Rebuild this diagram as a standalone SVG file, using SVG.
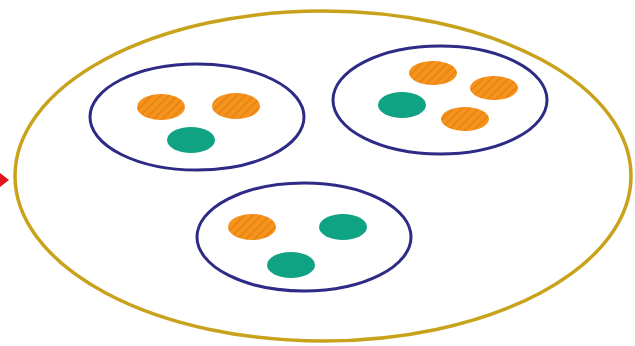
<svg xmlns="http://www.w3.org/2000/svg" width="635" height="346" viewBox="0 0 635 346">
<defs>
<pattern id="hatch" width="6" height="6" patternUnits="userSpaceOnUse" patternTransform="rotate(45)">
<rect width="6" height="6" fill="#F5931E"/>
<rect width="2" height="6" fill="#E8860F"/>
</pattern>
</defs>
<style>
.outer{fill:#FFFFFF;stroke:#C9A21C;stroke-width:3.5}
.group{fill:#FFFFFF;stroke:#2E2B86;stroke-width:3}
.o{fill:url(#hatch)}
.t{fill:#10A383}
</style>
<rect width="635" height="346" fill="#FFFFFF"/>
<g id="connectors">
<polygon points="0,173 9,180 0,187" fill="#E0141E"/>
</g>
<g id="universe">
<ellipse class="outer" cx="323" cy="176" rx="308" ry="165"/>
</g>
<g id="cluster1">
<ellipse class="group" cx="197" cy="117" rx="107" ry="53"/>
<ellipse class="o" cx="161" cy="107" rx="24" ry="13"/>
<ellipse class="o" cx="236" cy="106" rx="24" ry="13"/>
<ellipse class="t" cx="191" cy="140" rx="24" ry="13"/>
</g>
<g id="cluster2">
<ellipse class="group" cx="440" cy="100" rx="107" ry="54"/>
<ellipse class="o" cx="433" cy="73" rx="24" ry="12"/>
<ellipse class="o" cx="494" cy="88" rx="24" ry="12"/>
<ellipse class="t" cx="402" cy="105" rx="24" ry="13"/>
<ellipse class="o" cx="465" cy="119" rx="24" ry="12"/>
</g>
<g id="cluster3">
<ellipse class="group" cx="304" cy="237" rx="107" ry="54"/>
<ellipse class="o" cx="252" cy="227" rx="24" ry="13"/>
<ellipse class="t" cx="343" cy="227" rx="24" ry="13"/>
<ellipse class="t" cx="291" cy="265" rx="24" ry="13"/>
</g>
</svg>
